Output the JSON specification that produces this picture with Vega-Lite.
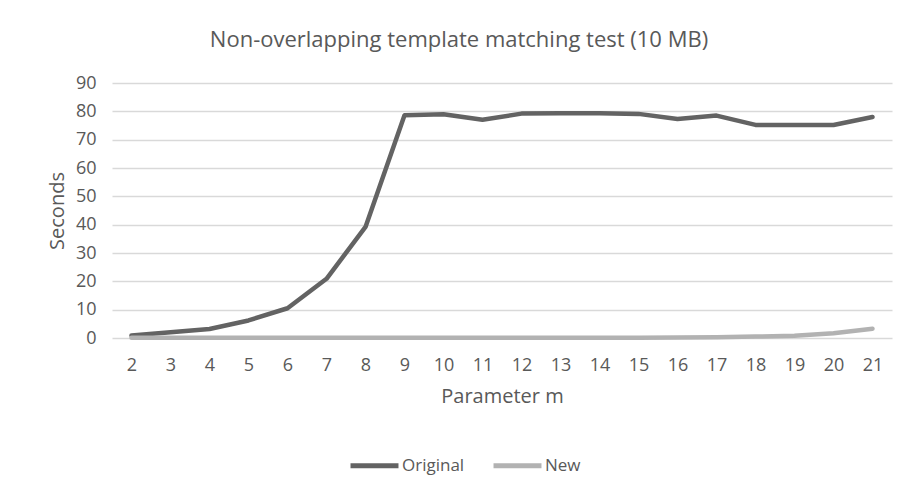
{
  "$schema": "https://vega.github.io/schema/vega-lite/v6.json",
  "autosize": "none",
  "width": 780,
  "height": 255,
  "padding": {"left": 112, "top": 83, "right": 13, "bottom": 154},
  "background": "white",
  "config": {
    "font": "Open Sans",
    "view": {"stroke": null}
  },
  "title": {
    "text": "Non-overlapping template matching test (10 MB)",
    "fontSize": 22,
    "fontWeight": "normal",
    "color": "#595959",
    "anchor": "middle",
    "dx": -43,
    "offset": 22
  },
  "data": {
    "values": [
      {"m": 2, "series": "Original", "seconds": 0.9},
      {"m": 3, "series": "Original", "seconds": 2.0},
      {"m": 4, "series": "Original", "seconds": 3.2},
      {"m": 5, "series": "Original", "seconds": 6.2},
      {"m": 6, "series": "Original", "seconds": 10.5},
      {"m": 7, "series": "Original", "seconds": 20.9},
      {"m": 8, "series": "Original", "seconds": 39.2},
      {"m": 9, "series": "Original", "seconds": 78.6},
      {"m": 10, "series": "Original", "seconds": 79.0},
      {"m": 11, "series": "Original", "seconds": 77.0},
      {"m": 12, "series": "Original", "seconds": 79.2},
      {"m": 13, "series": "Original", "seconds": 79.3},
      {"m": 14, "series": "Original", "seconds": 79.3},
      {"m": 15, "series": "Original", "seconds": 79.1},
      {"m": 16, "series": "Original", "seconds": 77.3},
      {"m": 17, "series": "Original", "seconds": 78.5},
      {"m": 18, "series": "Original", "seconds": 75.2},
      {"m": 19, "series": "Original", "seconds": 75.2},
      {"m": 20, "series": "Original", "seconds": 75.2},
      {"m": 21, "series": "Original", "seconds": 78.0},
      {"m": 2, "series": "New", "seconds": 0.1},
      {"m": 3, "series": "New", "seconds": 0.1},
      {"m": 4, "series": "New", "seconds": 0.1},
      {"m": 5, "series": "New", "seconds": 0.1},
      {"m": 6, "series": "New", "seconds": 0.1},
      {"m": 7, "series": "New", "seconds": 0.1},
      {"m": 8, "series": "New", "seconds": 0.1},
      {"m": 9, "series": "New", "seconds": 0.1},
      {"m": 10, "series": "New", "seconds": 0.1},
      {"m": 11, "series": "New", "seconds": 0.1},
      {"m": 12, "series": "New", "seconds": 0.1},
      {"m": 13, "series": "New", "seconds": 0.1},
      {"m": 14, "series": "New", "seconds": 0.1},
      {"m": 15, "series": "New", "seconds": 0.1},
      {"m": 16, "series": "New", "seconds": 0.2},
      {"m": 17, "series": "New", "seconds": 0.3},
      {"m": 18, "series": "New", "seconds": 0.5},
      {"m": 19, "series": "New", "seconds": 0.8},
      {"m": 20, "series": "New", "seconds": 1.7},
      {"m": 21, "series": "New", "seconds": 3.3}
    ]
  },
  "mark": {"type": "line", "strokeWidth": 4.5, "strokeCap": "round", "strokeJoin": "round"},
  "encoding": {
    "x": {
      "field": "m",
      "type": "ordinal",
      "scale": {"type": "point", "padding": 0.5},
      "axis": {
        "title": "Parameter m",
        "labelAngle": 0,
        "labelFontSize": 18,
        "labelColor": "#595959",
        "labelPadding": 18,
        "titleFontSize": 20,
        "titleFontWeight": "normal",
        "titleColor": "#595959",
        "titlePadding": 12,
        "domain": false,
        "ticks": false,
        "grid": false
      }
    },
    "y": {
      "field": "seconds",
      "type": "quantitative",
      "scale": {"domain": [0, 90], "nice": false},
      "axis": {
        "title": "Seconds",
        "values": [0, 10, 20, 30, 40, 50, 60, 70, 80, 90],
        "labelFontSize": 18,
        "labelColor": "#595959",
        "labelPadding": 16,
        "titleFontSize": 20,
        "titleFontWeight": "normal",
        "titleColor": "#595959",
        "titlePadding": 8,
        "domain": false,
        "ticks": false,
        "gridColor": "#d9d9d9",
        "gridWidth": 1.5
      }
    },
    "color": {
      "field": "series",
      "type": "nominal",
      "sort": ["Original", "New"],
      "scale": {"domain": ["Original", "New"], "range": ["#636363", "#b2b2b2"]},
      "legend": {
        "title": null,
        "orient": "none",
        "direction": "horizontal",
        "legendX": 236,
        "legendY": 356,
        "symbolType": "stroke",
        "symbolStrokeWidth": 5,
        "symbolSize": 2300,
        "labelFontSize": 17,
        "labelColor": "#595959",
        "labelOffset": 1,
        "columnPadding": 18
      }
    }
  }
}
